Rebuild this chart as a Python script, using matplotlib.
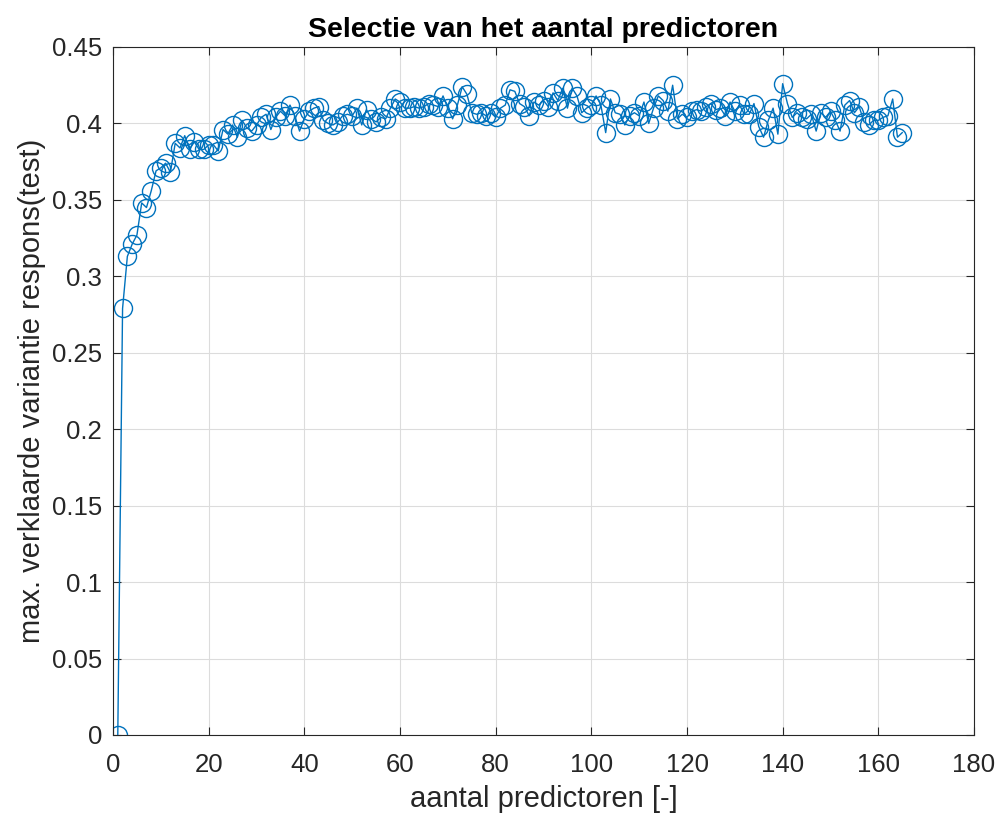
import numpy as np
import matplotlib.pyplot as plt

plt.rcParams['font.family'] = ['Liberation Sans', 'DejaVu Sans']

# aantal predictoren 1..165
n_pred = np.arange(1, 166)
r2_test = [
    0.000, 0.279, 0.313, 0.321, 0.327, 0.348, 0.345, 0.356, 0.369, 0.371,
    0.374, 0.368, 0.387, 0.384, 0.392, 0.383, 0.388, 0.383, 0.383, 0.386,
    0.386, 0.382, 0.396, 0.393, 0.399, 0.391, 0.402, 0.397, 0.395, 0.399,
    0.404, 0.406, 0.396, 0.404, 0.408, 0.405, 0.412, 0.405, 0.395, 0.403,
    0.408, 0.410, 0.411, 0.402, 0.400, 0.399, 0.401, 0.405, 0.406, 0.405,
    0.410, 0.399, 0.409, 0.403, 0.401, 0.404, 0.403, 0.410, 0.416, 0.414,
    0.410, 0.410, 0.411, 0.410, 0.411, 0.413, 0.412, 0.411, 0.418, 0.410,
    0.403, 0.412, 0.424, 0.419, 0.407, 0.406, 0.407, 0.405, 0.407, 0.404,
    0.410, 0.412, 0.422, 0.421, 0.413, 0.411, 0.405, 0.414, 0.412, 0.415,
    0.411, 0.420, 0.415, 0.423, 0.410, 0.423, 0.418, 0.407, 0.410, 0.412,
    0.418, 0.412, 0.394, 0.416, 0.407, 0.406, 0.399, 0.405, 0.407, 0.405,
    0.414, 0.400, 0.410, 0.418, 0.415, 0.408, 0.425, 0.403, 0.406, 0.404,
    0.408, 0.409, 0.408, 0.411, 0.413, 0.409, 0.410, 0.405, 0.414, 0.408,
    0.412, 0.406, 0.406, 0.413, 0.398, 0.391, 0.402, 0.410, 0.393, 0.426,
    0.413, 0.404, 0.407, 0.404, 0.403, 0.406, 0.395, 0.407, 0.404, 0.408,
    0.402, 0.395, 0.412, 0.415, 0.407, 0.411, 0.401, 0.399, 0.402, 0.402,
    0.404, 0.405, 0.416, 0.391, 0.394,
]

fig = plt.figure(figsize=(10.05, 8.19), dpi=100)
ax = fig.add_axes([113 / 1005, 1 - 735 / 819, (974 - 113) / 1005, (735 - 47) / 819])

ax.plot(n_pred, r2_test, '-o', color='#0072BD', lw=1.0,
        markerfacecolor='none', markeredgewidth=1.0, markersize=13)

ax.set_xlim(0, 180)
ax.set_ylim(0, 0.45)
ax.set_xticks(np.arange(0, 181, 20))
ax.set_yticks(np.arange(0, 0.451, 0.05))
ax.set_yticklabels(['0', '0.05', '0.1', '0.15', '0.2', '0.25', '0.3', '0.35', '0.4', '0.45'])
ax.grid(True, color='#dcdcdc', lw=0.8)
ax.set_axisbelow(True)
ax.tick_params(direction='in', top=True, right=True, labelsize=18.5, colors='#262626', length=6)
ax.tick_params(axis='x', pad=13)
ax.tick_params(axis='y', pad=8)
for s in ax.spines.values():
    s.set_color('#262626')

ax.set_title('Selectie van het aantal predictoren', fontsize=20.5, fontweight='bold', pad=7)
ax.set_xlabel('aantal predictoren [-]', fontsize=21, color='#262626', labelpad=6)
ax.set_ylabel('max. verklaarde variantie respons(test)', fontsize=21, color='#262626', labelpad=4)

fig.savefig('out.png', dpi=100)
